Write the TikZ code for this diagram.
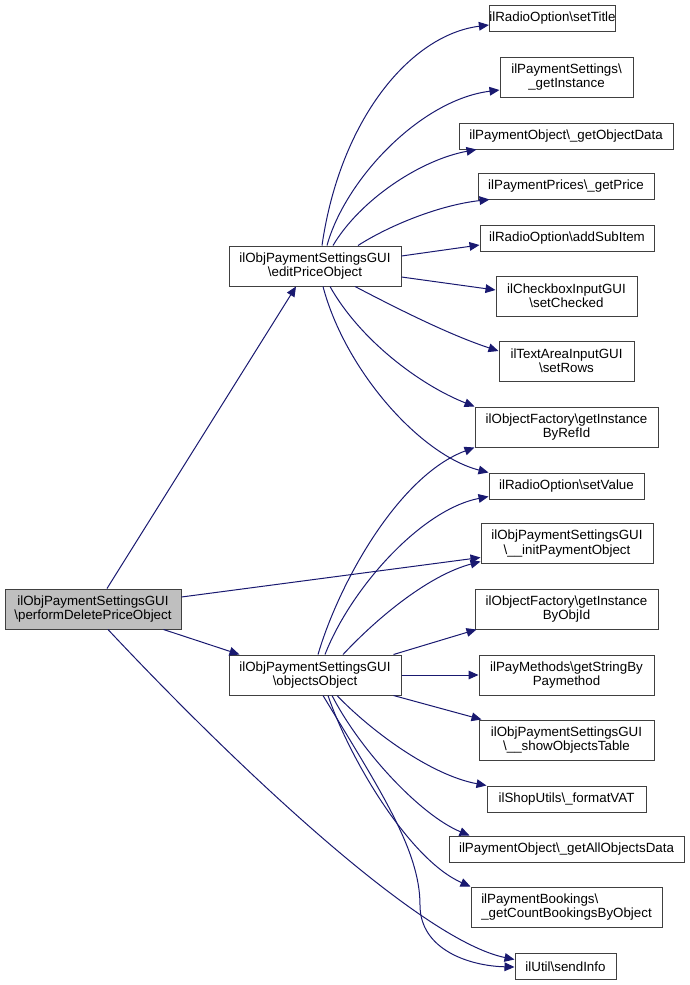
\documentclass[tikz,border=0pt]{standalone}
\usepackage{fontspec}
\setmainfont{Liberation Sans}
\usetikzlibrary{arrows.meta,calc}
\definecolor{edgeblue}{HTML}{191970}
\definecolor{rootgray}{HTML}{BFBFBF}
\newcommand{\bs}{\textbackslash}
\begin{document}
\begin{tikzpicture}[x=0.75pt,y=-0.75pt,
  fn/.style={draw=black!75,line width=0.75pt,rectangle,inner sep=0pt,align=center,
    font=\fontsize{10}{10.8}\selectfont,fill=white},
  e/.style={draw=edgeblue,line width=0.75pt,-{Triangle[length=7.5pt,width=6.5pt]}}]
\path[use as bounding box] (0,0) rectangle (689,985);
% nodes
\node[fn,fill=rootgray,minimum width=176*0.75pt,minimum height=40*0.75pt] (root) at (93,609) {ilObjPaymentSettingsGUI\\\bs performDeletePriceObject};
\node[fn,minimum width=172*0.75pt,minimum height=40*0.75pt] (edit) at (315,266) {ilObjPaymentSettingsGUI\\\bs editPriceObject};
\node[fn,minimum width=172*0.75pt,minimum height=40*0.75pt] (obj) at (315,675) {ilObjPaymentSettingsGUI\\\bs objectsObject};
\node[fn,minimum width=119*0.75pt,minimum height=26*0.75pt] (setTitle) at (552.5,18) {ilRadioOption\bs setTitle};
\node[fn,minimum width=133*0.75pt,minimum height=40*0.75pt] (getInstance) at (566.5,77) {ilPaymentSettings\bs\\\_getInstance};
\node[fn,minimum width=214*0.75pt,minimum height=26*0.75pt] (getObjectData) at (566,136) {ilPaymentObject\bs\_getObjectData};
\node[fn,minimum width=176*0.75pt,minimum height=26*0.75pt] (getPrice) at (566,186) {ilPaymentPrices\bs\_getPrice};
\node[fn,minimum width=174*0.75pt,minimum height=26*0.75pt] (addSubItem) at (567,238) {ilRadioOption\bs addSubItem};
\node[fn,minimum width=141*0.75pt,minimum height=40*0.75pt] (setChecked) at (566.5,296) {ilCheckboxInputGUI\\\bs setChecked};
\node[fn,minimum width=135*0.75pt,minimum height=40*0.75pt] (setRows) at (566.5,361) {ilTextAreaInputGUI\\\bs setRows};
\node[fn,minimum width=183*0.75pt,minimum height=40*0.75pt] (RefId) at (566.5,427) {ilObjectFactory\bs getInstance\\ByRefId};
\node[fn,minimum width=155*0.75pt,minimum height=26*0.75pt] (setValue) at (566.5,486) {ilRadioOption\bs setValue};
\node[fn,minimum width=172*0.75pt,minimum height=40*0.75pt] (init) at (567,543.5) {ilObjPaymentSettingsGUI\\\bs\_\_initPaymentObject};
\node[fn,minimum width=183*0.75pt,minimum height=40*0.75pt] (ObjId) at (566.5,609) {ilObjectFactory\bs getInstance\\ByObjId};
\node[fn,minimum width=175*0.75pt,minimum height=40*0.75pt] (Paymethod) at (566.5,675) {ilPayMethods\bs getStringBy\\Paymethod};
\node[fn,minimum width=175*0.75pt,minimum height=40*0.75pt] (showTable) at (566.5,740) {ilObjPaymentSettingsGUI\\\bs\_\_showObjectsTable};
\node[fn,minimum width=159*0.75pt,minimum height=26*0.75pt] (formatVAT) at (566.5,799) {ilShopUtils\bs\_formatVAT};
\node[fn,minimum width=235*0.75pt,minimum height=26*0.75pt] (getAll) at (566.5,849) {ilPaymentObject\bs\_getAllObjectsData};
\node[fn,minimum width=191*0.75pt,minimum height=40*0.75pt,align=left] (getCount) at (566.5,907) {ilPaymentBookings\bs\\\_getCountBookingsByObject};
\node[fn,minimum width=101*0.75pt,minimum height=26*0.75pt] (sendInfo) at (565.5,966.5) {ilUtil\bs sendInfo};
% root edges
\draw[e] ($(root.north)+(14,0)$) -- ($(edit.south)+(-19,0)$);
\draw[e] ($(root.east)+(0,-12)$) -- ($(init.west)+(0,14)$);
\draw[e] ($(root.south east)+(-18,0)$) -- ($(obj.north west)+(11,0)$);
\draw[e] ($(root.south)+(15,0)$) .. controls (235,765) and (420,940) .. ($(sendInfo.west)+(0,-7)$);
% edit edges
\draw[e] ($(edit.north)+(7,0)$) .. controls (340,120) and (410,35) .. ($(setTitle.west)+(0,7)$);
\draw[e] ($(edit.north)+(12,0)$) .. controls (345,180) and (420,100) .. ($(getInstance.west)+(0,13)$);
\draw[e] ($(edit.north)+(18,0)$) .. controls (360,200) and (420,160) .. ($(getObjectData.south west)+(18,0)$);
\draw[e] ($(edit.north)+(43,0)$) .. controls (390,225) and (440,205) .. ($(getPrice.south west)+(12,0)$);
\draw[e] ($(edit.east)+(0,-10)$) -- ($(addSubItem.west)+(0,7)$);
\draw[e] ($(edit.east)+(0,11)$) -- ($(setChecked.west)+(0,-6)$);
\draw[e] ($(edit.south)+(40,0)$) .. controls (400,310) and (450,335) .. ($(setRows.west)+(0,-10)$);
\draw[e] ($(edit.south)+(15,0)$) .. controls (360,340) and (420,385) .. (RefId.north west);
\draw[e] ($(edit.south)+(8,0)$) .. controls (345,370) and (420,455) .. (setValue.north west);
% objects edges
\draw[e] ($(obj.north)+(3,0)$) .. controls (340,580) and (400,475) .. (RefId.south west);
\draw[e] ($(obj.north)+(10,0)$) .. controls (350,590) and (420,510) .. ($(setValue.south west)+(0,-3)$);
\draw[e] ($(obj.north)+(28,0)$) .. controls (380,615) and (430,575) .. ($(init.west)+(0,18)$);
\draw[e] ($(obj.north east)+(-8,0)$) -- ($(ObjId.south west)+(2,0)$);
\draw[e] (obj.east) -- (Paymethod.west);
\draw[e] ($(obj.south east)+(-8,0)$) -- ($(showTable.north west)+(3,0)$);
\draw[e] ($(obj.south)+(22,0)$) .. controls (370,730) and (430,775) .. (formatVAT.north west);
\draw[e] ($(obj.south)+(17,0)$) .. controls (360,750) and (420,815) .. ($(getAll.north west)+(21,0)$);
\draw[e] ($(obj.south)+(13,0)$) .. controls (350,760) and (410,860) .. (getCount.north west);
\draw[e] ($(obj.south)+(8,0)$) .. controls (380,790) and (420,850) .. (420,905) .. controls (420,950) and (470,966) .. ($(sendInfo.west)+(0,0.5)$);
\end{tikzpicture}
\end{document}
